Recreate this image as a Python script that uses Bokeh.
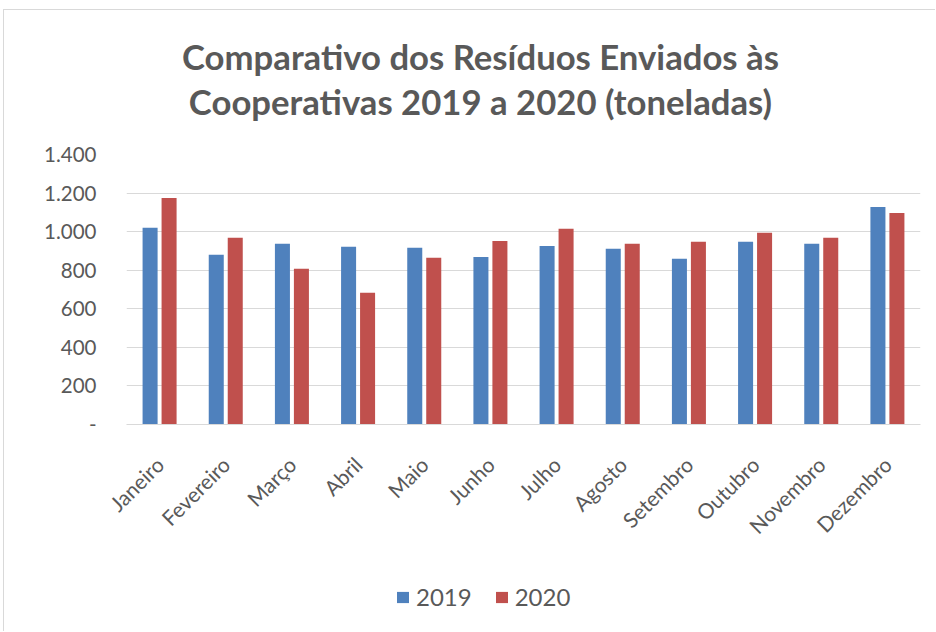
import math
from bokeh.plotting import figure
from bokeh.layouts import column
from bokeh.models import FactorRange, Range1d, Label, Legend, LegendItem, ColumnDataSource
from bokeh.transform import dodge
from bokeh.embed import file_html
from bokeh.resources import INLINE

months = ["Janeiro", "Fevereiro", "Março", "Abril", "Maio", "Junho", "Julho",
          "Agosto", "Setembro", "Outubro", "Novembro", "Dezembro"]
v2019 = [1020, 880, 937, 922, 916, 869, 926, 911, 859, 947, 937, 1128]
v2020 = [1175, 968, 807, 683, 864, 952, 1015, 937, 947, 994, 968, 1097]
series = ["2019", "2020"]
y_ticks = [0, 200, 400, 600, 800, 1000, 1200, 1400]
y_tick_labels = ["-", "200", "400", "600", "800", "1.000", "1.200", "1.400"]
title_lines = ["Comparativo dos Resíduos Enviados às", "Cooperativas 2019 a 2020 (toneladas)"]

BLUE = "#4F81BD"
RED = "#C0504D"
GRAY = "#595959"
GRID = "#d9d9d9"
FONT = "Lato"
W = 932

src = ColumnDataSource(dict(month=months, a=v2019, b=v2020))

# ---- title strip ----
tf = figure(width=W, height=125, output_backend="svg", toolbar_location=None,
            x_axis_type=None, y_axis_type=None, x_range=Range1d(0, 1), y_range=Range1d(0, 125),
            min_border=0, margin=(9, 0, 0, 3),
            styles={"border-top": "1px solid #d9d9d9", "border-left": "1px solid #d9d9d9"})
tf.outline_line_color = None
tf.xgrid.visible = False
tf.ygrid.visible = False
for txt, yv in zip(title_lines, [79.5, 34.5]):
    tf.add_layout(Label(x=0.4458, y=yv, text=txt, text_align="center", text_baseline="middle",
                        text_font=FONT, text_font_style="bold", text_font_size="34.7px",
                        text_color=GRAY))

# ---- main chart ----
p = figure(x_range=FactorRange(*months), y_range=Range1d(0, 1400),
           width=W, height=435, output_backend="svg", toolbar_location=None,
           min_border_left=122, min_border_right=16, min_border_top=20, min_border_bottom=145,
           margin=(0, 0, 0, 3), styles={"border-left": "1px solid #d9d9d9"})
p.outline_line_color = None
p.background_fill_color = "white"
p.border_fill_color = "white"

r1 = p.vbar(x=dodge("month", -0.1435, range=p.x_range), top="a", width=0.227, source=src,
            fill_color=BLUE, line_color=None)
r2 = p.vbar(x=dodge("month", 0.1435, range=p.x_range), top="b", width=0.227, source=src,
            fill_color=RED, line_color=None)

p.yaxis.ticker = y_ticks
p.yaxis.major_label_overrides = {t: l for t, l in zip(y_ticks, y_tick_labels)}
p.yaxis.axis_line_color = None
p.yaxis.major_tick_line_color = None
p.yaxis.minor_tick_line_color = None
p.yaxis.major_tick_in = 0
p.yaxis.major_tick_out = 0
p.yaxis.major_label_standoff = 30
p.yaxis.major_label_text_font = FONT
p.yaxis.major_label_text_font_size = "20.5px"
p.yaxis.major_label_text_color = GRAY

p.xaxis.axis_line_color = GRID
p.xaxis.axis_line_width = 1
p.xaxis.major_tick_line_color = None
p.xaxis.major_tick_in = 0
p.xaxis.major_tick_out = 0
p.xaxis.major_label_standoff = 36
p.xaxis.major_label_orientation = math.pi / 4
p.xaxis.major_label_text_font = FONT
p.xaxis.major_label_text_font_size = "21px"
p.xaxis.major_label_text_color = GRAY

p.xgrid.grid_line_color = None
p.ygrid.grid_line_color = GRID
p.ygrid.grid_line_width = 1

# ---- legend strip ----
lg = figure(width=W, height=62, output_backend="svg", toolbar_location=None,
            x_axis_type=None, y_axis_type=None, x_range=Range1d(0, 1), y_range=Range1d(0, 1),
            min_border=0, margin=(0, 0, 0, 3), styles={"border-left": "1px solid #d9d9d9"})
lg.outline_line_color = None
lg.xgrid.visible = False
lg.ygrid.visible = False
k1 = lg.vbar(x=[-5], top=[-5], bottom=[-6], width=0.1, fill_color=BLUE, line_color=None)
k2 = lg.vbar(x=[-5], top=[-5], bottom=[-6], width=0.1, fill_color=RED, line_color=None)
legend = Legend(items=[LegendItem(label=series[0], renderers=[k1]),
                       LegendItem(label=series[1], renderers=[k2])],
                location=(269, 20), orientation="horizontal")
legend.label_text_font = FONT
legend.label_text_font_size = "24px"
legend.label_text_color = GRAY
legend.glyph_width = 15
legend.glyph_height = 14
legend.label_standoff = 6
legend.spacing = 22
legend.padding = 0
legend.margin = 0
legend.border_line_color = None
legend.background_fill_alpha = 0
lg.add_layout(legend)

open("out.html", "w").write(file_html(column(tf, p, lg, spacing=0), INLINE))
